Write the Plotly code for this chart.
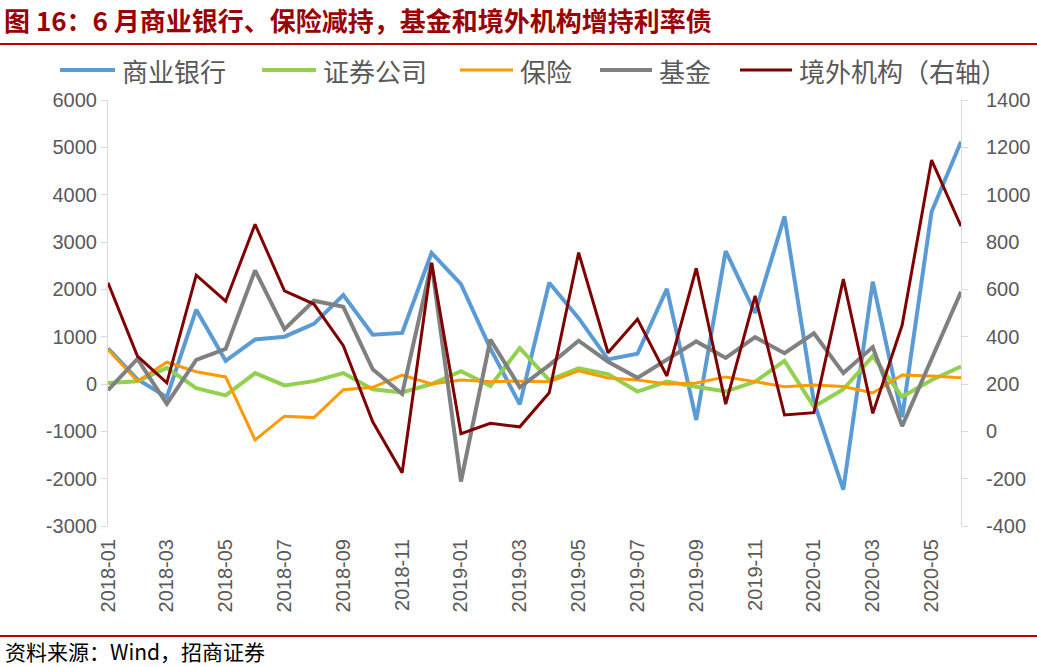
import plotly.graph_objects as go

months = ["2018-01", "2018-02", "2018-03", "2018-04", "2018-05", "2018-06",
          "2018-07", "2018-08", "2018-09", "2018-10", "2018-11", "2018-12",
          "2019-01", "2019-02", "2019-03", "2019-04", "2019-05", "2019-06",
          "2019-07", "2019-08", "2019-09", "2019-10", "2019-11", "2019-12",
          "2020-01", "2020-02", "2020-03", "2020-04", "2020-05", "2020-06"]
tick_labels = ["2018-01", "2018-03", "2018-05", "2018-07", "2018-09", "2018-11",
               "2019-01", "2019-03", "2019-05", "2019-07", "2019-09", "2019-11",
               "2020-01", "2020-03", "2020-05"]
left_ticks = [-3000, -2000, -1000, 0, 1000, 2000, 3000, 4000, 5000, 6000]
right_ticks = [-400, -200, 0, 200, 400, 600, 800, 1000, 1200, 1400]

bank = [750, 100, -280, 1570, 490, 940, 1000, 1270, 1880, 1040, 1080, 2770,
        2110, 750, -430, 2140, 1390, 520, 640, 2010, -760, 2810, 1500, 3540,
        -380, -2230, 2160, -700, 3640, 5120]
securities = [20, 60, 340, -90, -240, 230, -30, 60, 230, -110, -180, 0,
              270, -40, 760, 80, 330, 210, -160, 50, -60, -160, 50, 490,
              -480, -110, 590, -270, 85, 370]
insurance = [730, 60, 460, 260, 150, -1180, -680, -710, -120, -70, 190, 0,
             85, 50, 60, 50, 280, 125, 85, 0, 20, 150, 50, -60,
             -20, -55, -190, 190, 170, 130]
fund = [-130, 530, -420, 510, 740, 2400, 1160, 1760, 1630, 310, -210, 2550,
        -2060, 940, -70, 400, 915, 470, 130, 510, 900, 550, 990, 650,
        1070, 230, 780, -890, 550, 1950]
foreign = [628, 318, 205, 660, 550, 875, 594, 538, 362, 40, -175, 712,
           -10, 34, 19, 163, 755, 332, 474, 234, 689, 115, 572, 69,
           79, 643, 76, 449, 1146, 867]

series_names = ["商业银行", "证券公司", "保险", "基金", "境外机构（右轴）"]
series_values = [bank, securities, insurance, fund, foreign]
series_colors = ["#5B9BD5", "#92D050", "#FF9900", "#808080", "#7F0000"]
series_widths = [4, 4, 3, 4, 3]
series_axes = ["y", "y", "y", "y", "y2"]

# legend key positions (pixels): line start, line end, text start
legend_keys = [(60, 115, 120), (262, 316, 321), (460, 513, 518),
               (600, 652, 657), (740, 792, 797)]
LEGEND_Y = 70

CJK = "Noto Sans CJK SC"
NUM = "Liberation Sans"
W, H = 1037, 667
L, R, T, B = 108, 76, 100, 141
PW, PH = W - L - R, H - T - B


def px_x(p):
    return (p - L) / PW


def px_y(p):
    return (H - B - p) / PH


fig = go.Figure()
for name, vals, color, width, yax in zip(series_names, series_values,
                                         series_colors, series_widths, series_axes):
    fig.add_trace(go.Scatter(
        x=months, y=vals, name=name, mode="lines", yaxis=yax,
        line=dict(color=color, width=width), showlegend=False,
    ))

fig.update_layout(
    width=W, height=H,
    margin=dict(l=L, r=R, t=T, b=B, autoexpand=False),
    plot_bgcolor="white", paper_bgcolor="white",
    showlegend=False,
    title=dict(
        text="<b>图 16：6 月商业银行、保险减持，基金和境外机构增持利率债</b>",
        xref="container", yref="container", x=4 / W, xanchor="left",
        y=1 - 22 / H, yanchor="middle",
        font=dict(family=CJK, size=26, color="#9A0000"),
    ),
    xaxis=dict(
        type="category", categoryorder="array", categoryarray=months,
        range=[0, len(months) - 1],
        tickmode="array", tickvals=tick_labels, ticktext=tick_labels,
        tickangle=-90, tickfont=dict(family=NUM, size=20, color="#595959"),
        showline=False, showgrid=False, zeroline=False, ticks="",
        ticklabelstandoff=8,
    ),
    xaxis2=dict(
        overlaying="x", anchor="free", position=1 / 3, type="linear",
        range=[0, len(months) - 1], tick0=0, dtick=2,
        showline=True, linecolor="#D9D9D9", linewidth=2,
        ticks="outside", ticklen=5, tickcolor="#D9D9D9", tickwidth=1,
        showticklabels=False, showgrid=False, zeroline=False,
    ),
    yaxis=dict(
        range=[-3000, 6000], tickmode="array",
        tickvals=left_ticks, ticktext=[str(v) for v in left_ticks],
        showline=True, linecolor="#D9D9D9", linewidth=1,
        ticks="outside", ticklen=6, tickcolor="#D9D9D9",
        showgrid=False, zeroline=False,
        tickfont=dict(family=NUM, size=20, color="#595959"),
    ),
    yaxis2=dict(
        overlaying="y", side="right", anchor="x",
        range=[-400, 1400], tickmode="array",
        tickvals=right_ticks, ticktext=[str(v) for v in right_ticks],
        showline=True, linecolor="#D9D9D9", linewidth=1,
        ticks="outside", ticklen=6, tickcolor="#D9D9D9",
        showgrid=False, zeroline=False,
        tickfont=dict(family=NUM, size=20, color="#595959"),
        ticklabelstandoff=14,
    ),
)

# hand-placed legend keys matching the reference layout
for (x0, x1, xt), name, color, width in zip(legend_keys, series_names,
                                             series_colors, series_widths):
    fig.add_shape(
        type="line", xref="paper", yref="paper",
        x0=px_x(x0), x1=px_x(x1), y0=px_y(LEGEND_Y), y1=px_y(LEGEND_Y),
        line=dict(color=color, width=width),
    )
    fig.add_annotation(
        text=name, xref="paper", yref="paper", x=px_x(xt), y=px_y(LEGEND_Y),
        xanchor="left", yanchor="middle", showarrow=False,
        font=dict(family=CJK, size=26, color="#595959"),
    )

# red rules under the title and above the source note
for ypix in (44, 636):
    fig.add_shape(
        type="line", xref="paper", yref="paper",
        x0=px_x(0), x1=px_x(W), y0=px_y(ypix), y1=px_y(ypix),
        line=dict(color="#C00000", width=2),
    )

fig.add_annotation(
    text="资料来源：Wind，招商证券", xref="paper", yref="paper",
    x=px_x(3), y=px_y(651), xanchor="left", yanchor="middle",
    showarrow=False, font=dict(family=CJK, size=21, color="#000000"),
)

fig.write_html("out.html")
